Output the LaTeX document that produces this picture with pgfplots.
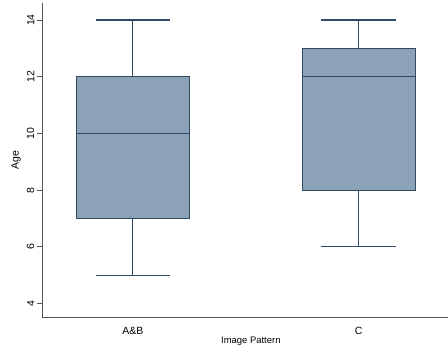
\documentclass[border=0pt]{standalone}
\usepackage{pgfplots}
\pgfplotsset{compat=1.18}
\usepgfplotslibrary{statistics}
\usepackage{fontspec}
\setmainfont{Liberation Sans}
\definecolor{boxfill}{RGB}{140,162,183}
\definecolor{boxline}{RGB}{48,75,102}
\definecolor{axgray}{RGB}{85,85,85}
\begin{document}
\begin{tikzpicture}
\begin{axis}[
  scale only axis,
  width=406bp, height=315bp,
  xmin=0.597, xmax=2.394,
  ymin=3.5, ymax=14.6,
  axis x line*=bottom, axis y line*=left,
  axis line style={-, axgray, line width=0.9pt},
  xtick={1,2}, xticklabels={A\&B, C},
  xtick style={draw=none},
  ytick={4,6,8,10,12,14},
  tick style={axgray, line width=0.7pt},
  tick align=outside,
  major tick length=5bp,
  yticklabel style={rotate=90, anchor=south, font=\fontsize{10.5}{12}\selectfont, inner sep=2.5bp},
  xticklabel style={font=\fontsize{10.5}{12}\selectfont, yshift=-1bp},
  /pgf/number format/assume math mode=true,
  ylabel={Age},
  xlabel={Image Pattern},
  every axis y label/.style={at={(ticklabel cs:0.5)}, rotate=90, anchor=south, font=\fontsize{10.5}{12}\selectfont},
  every axis x label/.style={at={(0.515,-16bp)}, anchor=north, font=\fontsize{9.5}{11}\selectfont},
  boxplot/draw direction=y,
  boxplot/box extend=0.5,
  boxplot/whisker extend=0.33,
  clip=false,
]
\addplot+[boxplot prepared={lower whisker=5, lower quartile=7, median=10, upper quartile=12, upper whisker=14, draw position=1},
  fill=boxfill, draw=boxline, line width=1.1bp, solid] coordinates {};
\addplot+[boxplot prepared={lower whisker=6, lower quartile=8, median=12, upper quartile=13, upper whisker=14, draw position=2},
  fill=boxfill, draw=boxline, line width=1.1bp, solid] coordinates {};
\end{axis}
\useasboundingbox (current axis.south west) ++(-42bp,-35bp) rectangle ([yshift=3bp]current axis.north east);
\end{tikzpicture}
\end{document}
